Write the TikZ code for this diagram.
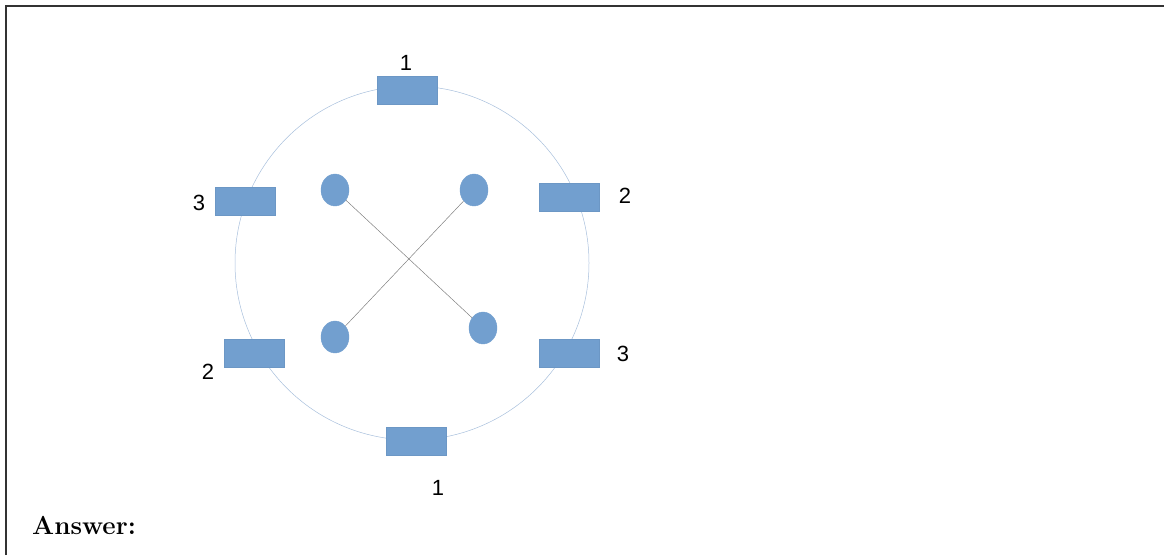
\documentclass[tikz,border=0pt]{standalone}
\usepackage{fontspec}
\usetikzlibrary{shapes.geometric}
\newfontfamily\lab{Liberation Sans}
\definecolor{rectblue}{HTML}{729FCF}
\definecolor{ringblue}{HTML}{A7BFDC}
\definecolor{linegray}{HTML}{808080}
\begin{document}
\begin{tikzpicture}[x=1pt,y=-1pt,
  pad/.style={draw=rectblue!95!black, fill=rectblue, line width=0.4pt, minimum width=60pt, minimum height=28pt, inner sep=0pt},
  dot/.style={ellipse, draw=rectblue, fill=rectblue, minimum width=28pt, minimum height=32pt, inner sep=0pt},
  num/.style={font=\lab\fontsize{22}{25}\selectfont, inner sep=0pt},
  wire/.style={draw=linegray, line width=0.5pt}]
\useasboundingbox (0,0) rectangle (1164,555);
\draw[line width=1.4pt, draw=black!80] (6,555) -- (6,6) -- (1164,6);
\node[draw=ringblue, line width=0.5pt, circle, minimum size=354pt, inner sep=0pt] (ring) at (412,263) {};
\node[pad] (p1) at (407,90.5) {};
\node[pad] (p2) at (569,197) {};
\node[pad] (p3) at (245,201.5) {};
\node[pad] (p4) at (254,353.5) {};
\node[pad] (p5) at (569,353.5) {};
\node[pad] (p6) at (416,441) {};
\node[num] (l1) at (406,63) {1};
\node[num] (l2) at (625,196) {2};
\node[num] (l3) at (199,203) {3};
\node[num] (l4) at (208,372) {2};
\node[num] (l5) at (623,354) {3};
\node[num] (l6) at (438,488) {1};
\node[dot] (a) at (335,190) {};
\node[dot] (b) at (474,190) {};
\node[dot] (c) at (335,337) {};
\node[dot] (d) at (483,328) {};
\draw[wire] (a) -- (d);
\draw[wire] (b) -- (c);
\node[anchor=base west, inner sep=0pt, font=\fontsize{26}{31}\selectfont\bfseries] (ans) at (32,534) {Answer:};
\end{tikzpicture}
\end{document}
